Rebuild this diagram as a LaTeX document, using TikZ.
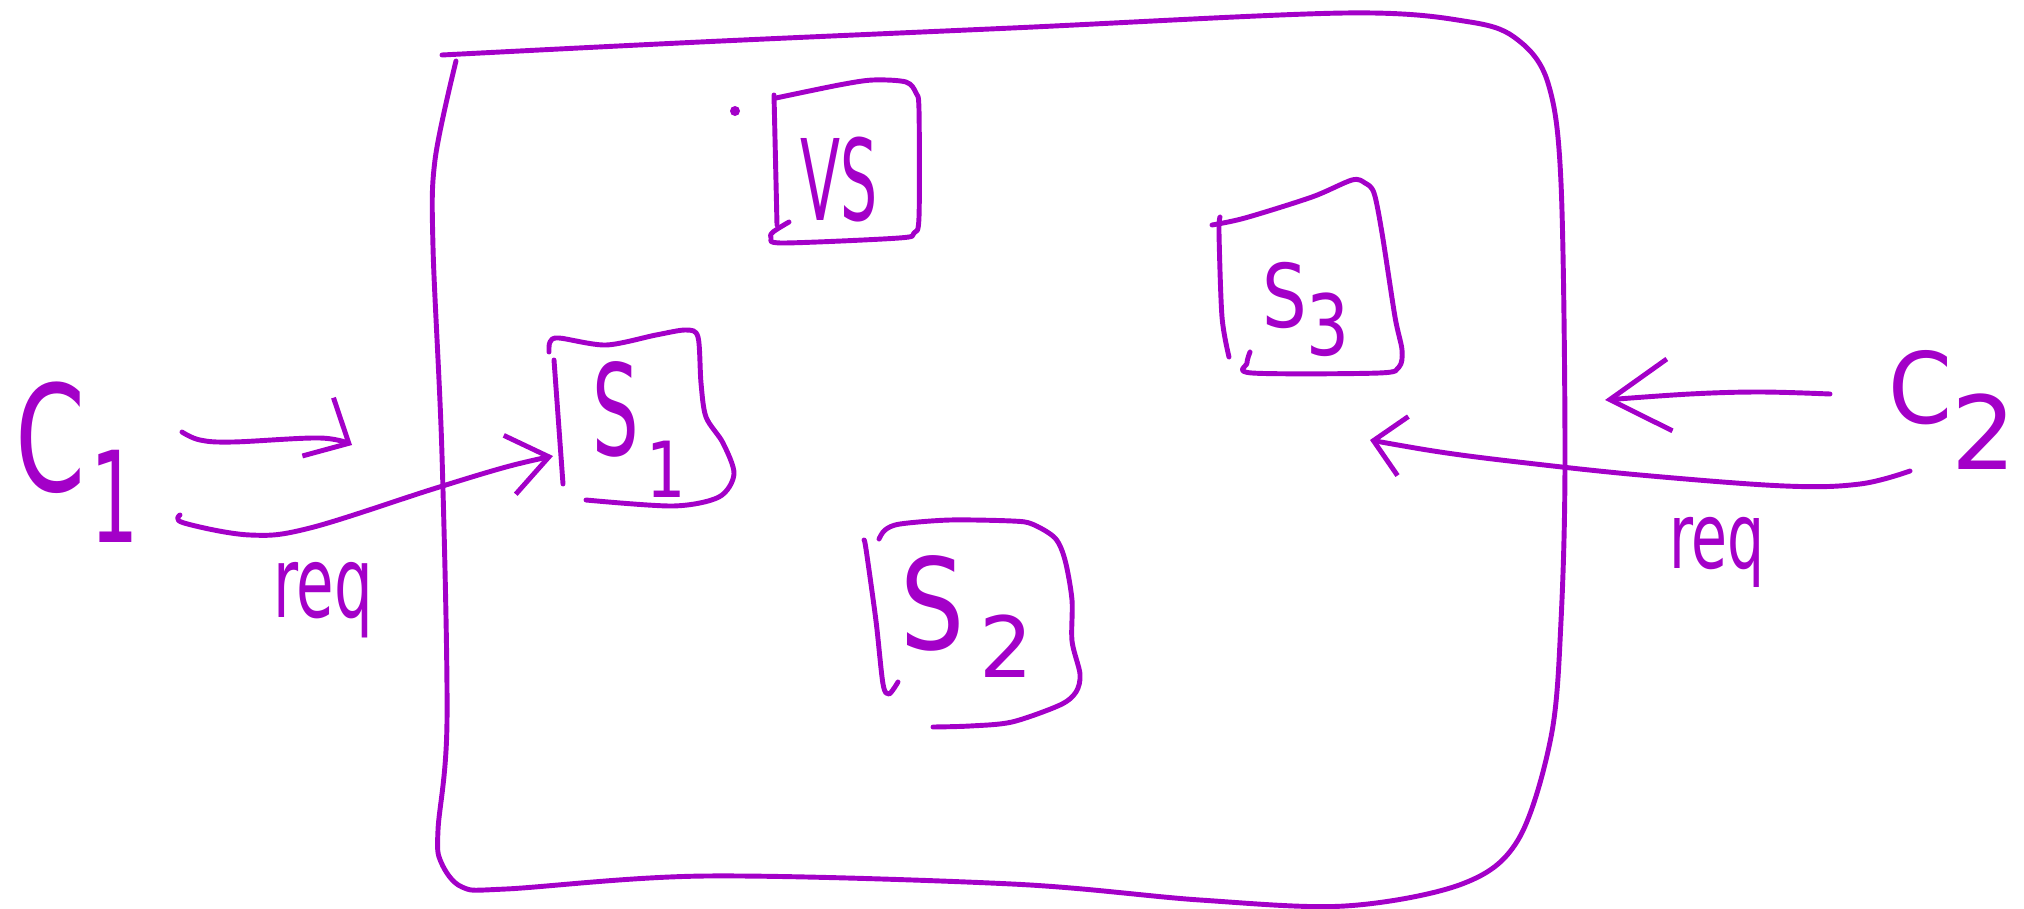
\documentclass[tikz,border=0pt]{standalone}
\usepackage{fontspec}
\setmainfont{DejaVu Sans}
\usepackage{graphicx}
\usetikzlibrary{arrows.meta}
\definecolor{ink}{RGB}{163,0,200}
\newcommand{\hwtext}[3]{\scalebox{#2}[1]{\fontsize{#1}{#1}\selectfont #3}}
\begin{document}
\begin{tikzpicture}[x=0.01cm,y=-0.01cm,
  pen/.style={draw=ink, line width=1.4pt, line cap=round, line join=round},
  lab/.style={text=ink, inner sep=0pt, outer sep=0pt},
  headA/.style={-{Straight Barb[length=0.35cm,width=0.66cm]}},
  headB/.style={-{Straight Barb[length=0.4cm,width=0.6cm]}},
  headC/.style={-{Straight Barb[length=0.6cm,width=0.72cm]}},
  headD/.style={-{Straight Barb[length=0.3cm,width=0.6cm]}}]
\useasboundingbox (0,0) rectangle (2024,909);

% outer box
\draw[pen] plot[smooth, tension=0.55] coordinates {(442,55) (700,42) (1012,28) (1345,13) (1470,22) (1518,40) (1548,83) (1561,183) (1565,455) (1561,621) (1551,737) (1518,840) (1462,884) (1345,906) (1200,900) (1012,884) (706,876) (506,889) (462,887) (441,862) (438,830) (447,721) (442,455) (433,247) (435,160) (456,61)};

% VS box
\draw[pen] (774,95) -- (777,225);
\draw[pen] plot[smooth, tension=0.5] coordinates {(776,98) (839,85) (873,80) (906,82) (916,93) (919,110) (919,217) (914,233) (899,238) (783,243) (771,238) (773,232) (789,222)};
\fill[ink] (735,111) circle[radius=0.05cm];

% S1 box
\draw[pen] (554,360) -- (563,484);
\draw[pen] plot[smooth, tension=0.5] coordinates {(549,352) (550,342) (559,338) (606,345) (656,335) (686,330) (698,337) (701,383) (706,417) (723,443) (734,474) (719,497) (673,506) (586,500)};

% S2 box
\draw[pen] plot[smooth, tension=0.5] coordinates {(864,540) (866,549) (876,621) (883,684) (889,694) (898,682)};
\draw[pen] plot[smooth, tension=0.5] coordinates {(879,539) (885,530) (900,524) (950,520) (1012,521) (1032,524) (1055,538) (1065,560) (1072,600) (1072,641) (1080,674) (1076,692) (1060,705) (1012,722) (970,726) (933,727)};

% S3 box
\draw[pen] plot[smooth, tension=0.5] coordinates {(1220,217) (1219,233) (1222,317) (1229,357)};
\draw[pen] plot[smooth, tension=0.5] coordinates {(1212,225) (1245,218) (1312,197) (1352,180) (1365,183) (1374,193) (1382,233) (1395,317) (1402,350) (1399,367) (1379,373) (1252,373) (1247,363) (1250,352)};

% labels
\node[lab, anchor=base west] (c1) at (15,491) {\hwtext{42}{0.68}{C}\hspace{0.05cm}\raisebox{-0.51cm}{\hwtext{36}{0.6}{1}}};
\node[lab, anchor=base west] (vs) at (800,220) {\hwtext{32}{0.52}{VS}};
\node[lab, anchor=base west] (s1) at (592,455) {\hwtext{36}{0.58}{S}\hspace{0.08cm}\raisebox{-0.42cm}{\hwtext{22}{0.8}{1}}};
\node[lab, anchor=base west] (s2) at (900,649) {\hwtext{36}{0.8}{S}\hspace{0.15cm}\raisebox{-0.28cm}{\hwtext{24}{1}{2}}};
\node[lab, anchor=base west] (s3) at (1262,327) {\hwtext{25}{0.8}{S}\raisebox{-0.28cm}{\hwtext{24}{0.8}{3}}};
\node[lab, anchor=base west] (c2) at (1888,423) {\hwtext{28}{0.93}{C}\raisebox{-0.46cm}{\hwtext{29}{1}{2}}};
\node[lab, anchor=base west] (req1) at (273,617) {\hwtext{28}{0.62}{req}};
\node[lab, anchor=base west] (req2) at (1669,568) {\hwtext{26}{0.64}{req}};

% connector end points
\coordinate (c1a) at (182,432);
\coordinate (end1) at (352,445);
\coordinate (c1b) at (180,515);
\coordinate (s1w) at (553,456);
\coordinate (c2a) at (1830,394);
\coordinate (end2) at (1605,400);
\coordinate (c2b) at (1910,471);
\coordinate (s3se) at (1370,440);

% connectors
\draw[pen, headA] plot[smooth, tension=0.6] coordinates {(c1a) (200,440) (233,442) (320,438) (end1)};
\draw[pen, headB] plot[smooth, tension=0.6] coordinates {(c1b) (184,523) (250,535) (310,528) (433,489) (506,467) (s1w)};
\draw[pen, headC] plot[smooth, tension=0.6] coordinates {(c2a) (1760,392) (1690,394) (end2)};
\draw[pen, headD] plot[smooth, tension=0.6] coordinates {(c2b) (1860,484) (1785,486) (1640,475) (1518,462) (1440,452) (s3se)};
\end{tikzpicture}
\end{document}
